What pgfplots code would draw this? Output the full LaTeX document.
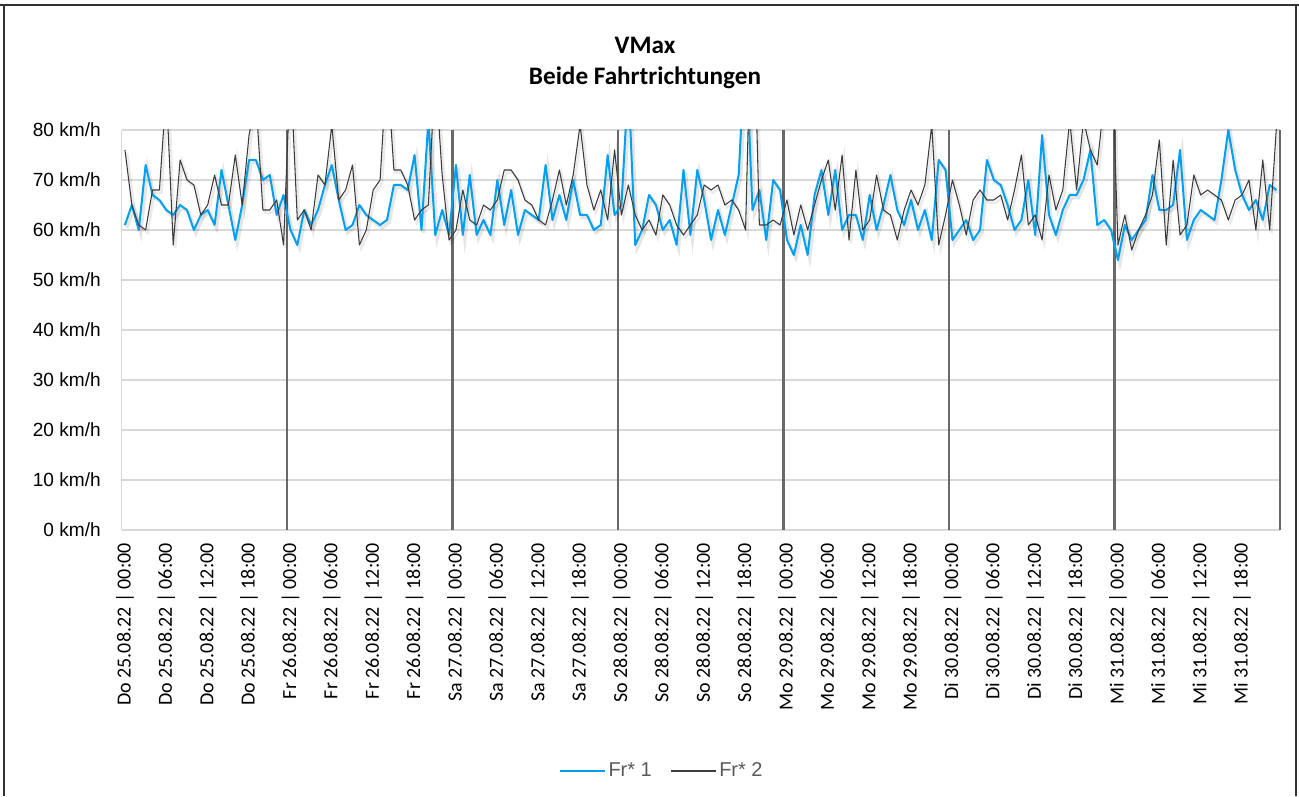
\documentclass[border=0pt]{standalone}
\usepackage{pgfplots}
\usepackage{pgfplotstable}
\pgfplotsset{compat=1.18}
\usepackage{fontspec}
\setmainfont{Carlito}
\newfontfamily\arialf{Liberation Sans}
\newfontfamily\calib{Carlito}
\definecolor{blueser}{RGB}{0,160,240}
\definecolor{darkser}{RGB}{60,60,60}
\definecolor{gridc}{RGB}{217,217,217}
\definecolor{sepc}{RGB}{105,105,105}
\definecolor{legtext}{RGB}{89,89,89}
\definecolor{framec}{RGB}{50,50,50}

\pgfplotstableread{
i b k
0 61 76
1 65 65
2 60 61
3 73 60
4 67 68
5 66 68
6 64 88
7 63 57
8 65 74
9 64 70
10 60 69
11 63 63
12 64 65
13 61 71
14 72 65
15 65 65
16 58 75
17 65 65
18 74 79
19 74 86
20 70 64
21 71 64
22 63 66
23 67 57
24 60 92
25 57 62
26 64 64
27 61 60
28 64 71
29 69 69
30 73 81
31 66 66
32 60 68
33 61 73
34 65 57
35 63 60
36 62 68
37 61 70
38 62 93
39 69 72
40 69 72
41 68 69
42 75 62
43 60 64
44 82 65
45 59 92
46 64 71
47 59 58
48 73 60
49 59 68
50 71 62
51 59 61
52 62 65
53 59 64
54 70 66
55 61 72
56 68 72
57 59 70
58 64 66
59 63 65
60 62 62
61 73 61
62 62 66
63 67 72
64 62 65
65 70 71
66 63 81
67 63 69
68 60 64
69 61 68
70 75 62
71 63 76
72 65 63
73 90 69
74 57 63
75 60 60
76 67 62
77 65 59
78 60 67
79 62 65
80 57 61
81 72 59
82 59 61
83 72 63
84 66 69
85 58 68
86 64 69
87 59 65
88 65 66
89 71 64
90 98 60
91 64 115
92 68 61
93 58 61
94 70 62
95 68 61
96 58 66
97 55 59
98 61 65
99 55 60
100 67 65
101 72 70
102 63 74
103 72 64
104 60 75
105 63 58
106 63 72
107 58 60
108 67 62
109 60 71
110 65 64
111 71 63
112 64 58
113 61 64
114 66 68
115 60 65
116 64 69
117 58 81
118 74 57
119 72 63
120 58 70
121 60 65
122 62 59
123 58 66
124 60 68
125 74 66
126 70 66
127 69 67
128 65 62
129 60 68
130 62 75
131 70 61
132 59 63
133 79 58
134 63 71
135 59 64
136 64 68
137 67 82
138 67 68
139 70 82
140 76 76
141 61 73
142 62 86
143 60 100
144 54 57
145 61 63
146 58 56
147 60 60
148 62 63
149 71 67
150 64 78
151 64 57
152 65 74
153 76 59
154 58 61
155 62 71
156 64 67
157 63 68
158 62 67
159 70 66
160 80 62
161 72 66
162 67 67
163 64 70
164 66 60
165 62 74
166 69 60
167 68 81
}\vmaxdata

\begin{document}
\begin{tikzpicture}
\useasboundingbox (0,0) rectangle (974.25pt,597pt);
\fill[white] (0,0) rectangle (974.25pt,597pt);
\begin{axis}[
  at={(91.125pt,199.5pt)}, anchor=south west,
  scale only axis, width=868.875pt, height=300pt,
  xmin=-0.5, xmax=167.5, ymin=0, ymax=80,
  axis lines*=left,
  axis line style={-, draw=gridc, line width=1pt},
  ytick={0,10,...,80},
  yticklabels={0 km/h,10 km/h,20 km/h,30 km/h,40 km/h,50 km/h,60 km/h,70 km/h,80 km/h},
  ymajorgrids,
  major grid style={draw=gridc, line width=1pt},
  xtick={0,6,...,162},
  xticklabels={
    Do 25.08.22 | 00:00, Do 25.08.22 | 06:00, Do 25.08.22 | 12:00, Do 25.08.22 | 18:00,
    Fr 26.08.22 | 00:00, Fr 26.08.22 | 06:00, Fr 26.08.22 | 12:00, Fr 26.08.22 | 18:00,
    Sa 27.08.22 | 00:00, Sa 27.08.22 | 06:00, Sa 27.08.22 | 12:00, Sa 27.08.22 | 18:00,
    So 28.08.22 | 00:00, So 28.08.22 | 06:00, So 28.08.22 | 12:00, So 28.08.22 | 18:00,
    Mo 29.08.22 | 00:00, Mo 29.08.22 | 06:00, Mo 29.08.22 | 12:00, Mo 29.08.22 | 18:00,
    Di 30.08.22 | 00:00, Di 30.08.22 | 06:00, Di 30.08.22 | 12:00, Di 30.08.22 | 18:00,
    Mi 31.08.22 | 00:00, Mi 31.08.22 | 06:00, Mi 31.08.22 | 12:00, Mi 31.08.22 | 18:00},
  major tick length=0pt,
  extra x ticks={23.5,47.5,71.5,95.5,119.5,143.5,167.5},
  extra x tick labels={},
  extra x tick style={grid=major, major grid style={draw=sepc, line width=1.6pt}},
  yticklabel style={font=\arialf\fontsize{14.3}{17}\selectfont, anchor=east, inner sep=0pt, xshift=-15.4pt, text=black},
  xticklabel style={font=\calib\fontsize{15}{18}\selectfont, yshift=-9.75pt, rotate=90, anchor=east, inner sep=0pt, text=black},
  legend style={at={(0.4666,-0.6025)}, anchor=center, draw=none, fill=none,
    font=\arialf\fontsize{15}{18}\selectfont, text=legtext, legend columns=2,
    /tikz/every even column/.append style={column sep=12pt}},
  legend image code/.code={\draw[#1] (0pt,0pt) -- (33.75pt,0pt);},
]
\addplot[forget plot, black, opacity=0.10, line width=2.6pt, xshift=1.5pt, yshift=-2pt] table[x=i, y=b] {\vmaxdata};
\addplot[forget plot, black, opacity=0.08, line width=2pt, xshift=1.5pt, yshift=-2pt] table[x=i, y=k] {\vmaxdata};
\addplot[blueser, line width=1.5pt, line join=round] table[x=i, y=b] {\vmaxdata};
\addlegendentry{Fr* 1}
\addplot[darkser, line width=0.8pt, line join=round] table[x=i, y=k] {\vmaxdata};
\addlegendentry{Fr* 2}
\end{axis}
\node[font=\calib\bfseries\fontsize{18.9}{23.25}\selectfont, align=center] at (483.75pt,550.1pt) {VMax\\Beide Fahrtrichtungen};
\draw[framec, line width=0.8pt] (3pt,0pt) -- (3pt,593.25pt);
\draw[framec, line width=0.8pt] (972pt,0pt) -- (972pt,593.25pt);
\draw[framec, line width=2pt] (0pt,593.25pt) -- (974.25pt,593.25pt);
\end{tikzpicture}
\end{document}
